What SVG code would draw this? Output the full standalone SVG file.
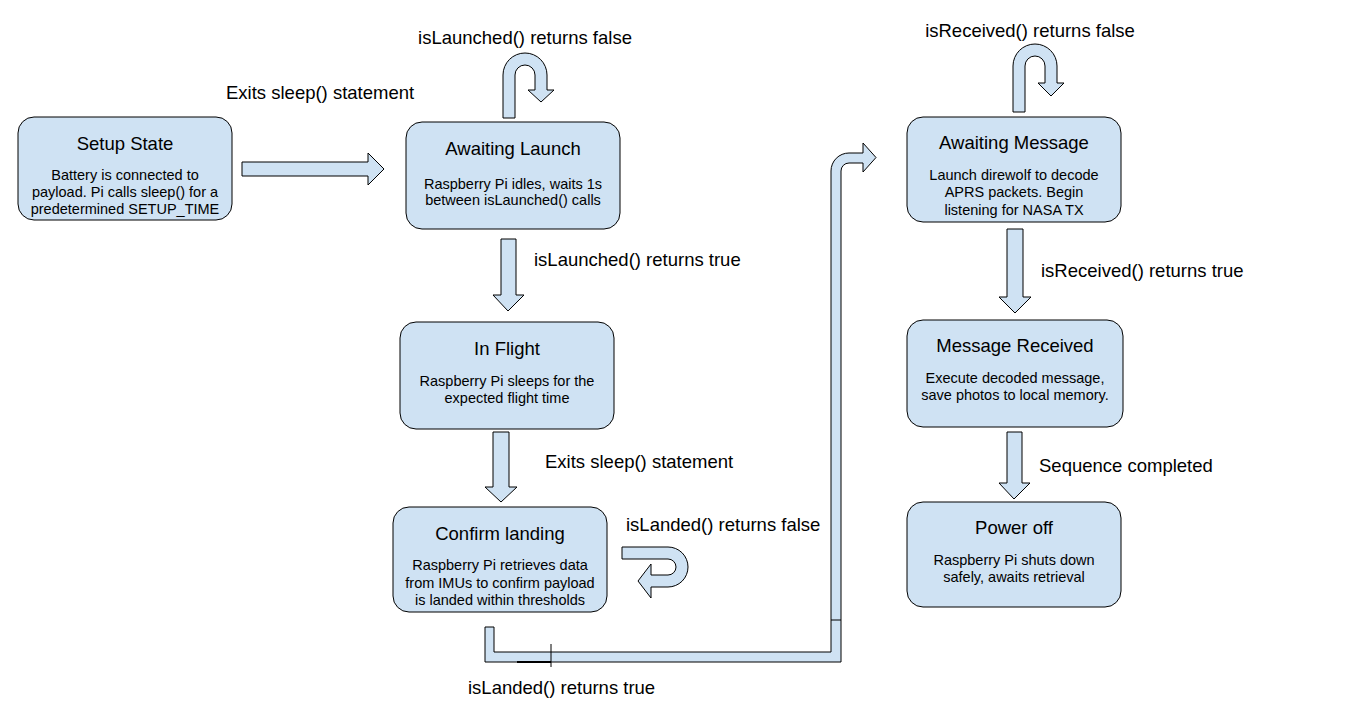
<svg xmlns="http://www.w3.org/2000/svg" width="1352" height="726" viewBox="0 0 1352 726">
<style>
.box{fill:#cfe2f3;stroke:#000;stroke-width:1}
.arr{fill:#cfe2f3;stroke:#000;stroke-width:1;stroke-linejoin:miter}
.t{font-family:"Liberation Sans",Arial,sans-serif;font-size:18.5px;fill:#000;text-anchor:middle}
.b{font-family:"Liberation Sans",Arial,sans-serif;font-size:14.5px;fill:#000;text-anchor:middle}
.l{font-family:"Liberation Sans",Arial,sans-serif;font-size:18.5px;fill:#000}
.ln{stroke:#000;stroke-width:1;fill:none}
</style>
<rect width="1352" height="726" fill="#fff"/>
<g id="connectors">
<path class="arr" d="M242,162 H368 V153 L384,169 L368,185 V176 H242 Z"/>
<path class="arr" d="M501,239 H516 V295 H524 L508,311 L493,295 H501 Z"/>
<path class="arr" d="M493,432 H509 V487 H517 L501,502 L485,487 H493 Z"/>
<path class="arr" d="M1007,229 H1023 V297 H1031 L1015,313 L999,297 H1007 Z"/>
<path class="arr" d="M1007,432 H1022 V483 H1030 L1014,499 L999,483 H1007 Z"/>
<path class="arr" d="M503,118 V75 A22,22 0 0 1 547,75 V90 H554 L541,102 L528,90 H535 V75 A10,10 0 0 0 515,75 V118 Z"/>
<path class="arr" d="M1013,112 V66 A22,22 0 0 1 1057,66 V83 H1064 L1051,96 L1038,83 H1045 V66 A10,10 0 0 0 1025,66 V112 Z"/>
<path class="arr" d="M622,547 H668 A20,20 0 0 1 668,587 H651 V598 L638,581 L651,564 V575 H668 A8,8 0 0 0 668,559 H622 Z"/>
<path class="arr" d="M485,627 H494 V652 H831 V171 A18,18 0 0 1 849,153 H863 V143 L876,157.5 L863,172 V163 H849 A8,8 0 0 0 841,171 V662 H485 Z"/>
<line class="ln" x1="831" y1="620" x2="841" y2="620"/>
<line class="ln" x1="551" y1="644" x2="551" y2="667"/>
<line x1="517" y1="662" x2="551" y2="662" stroke="#000" stroke-width="2"/>
<text class="l" x="525" y="44" text-anchor="middle">isLaunched() returns false</text>
<text class="l" x="226" y="99">Exits sleep() statement</text>
<text class="l" x="534" y="266">isLaunched() returns true</text>
<text class="l" x="545" y="468">Exits sleep() statement</text>
<text class="l" x="626" y="531">isLanded() returns false</text>
<text class="l" x="468" y="694">isLanded() returns true</text>
<text class="l" x="1030" y="37" text-anchor="middle">isReceived() returns false</text>
<text class="l" x="1041" y="277">isReceived() returns true</text>
<text class="l" x="1039" y="472">Sequence completed</text>
</g>
<g id="setup">
<rect class="box" x="18" y="117" width="214" height="103" rx="16"/>
<text class="t" x="125" y="150">Setup State</text>
<text class="b" x="125" y="180">Battery is connected to</text>
<text class="b" x="125" y="197">payload. Pi calls sleep() for a</text>
<text class="b" x="125" y="214">predetermined SETUP_TIME</text>
</g>
<g id="awaiting-launch">
<rect class="box" x="406" y="122" width="214" height="107" rx="16"/>
<text class="t" x="513" y="155">Awaiting Launch</text>
<text class="b" x="513" y="189">Raspberry Pi idles, waits 1s</text>
<text class="b" x="513" y="205">between isLaunched() calls</text>
</g>
<g id="in-flight">
<rect class="box" x="400" y="322" width="214" height="107" rx="16"/>
<text class="t" x="507" y="355">In Flight</text>
<text class="b" x="507" y="386">Raspberry Pi sleeps for the</text>
<text class="b" x="507" y="403">expected flight time</text>
</g>
<g id="confirm-landing">
<rect class="box" x="393" y="507" width="214" height="105" rx="16"/>
<text class="t" x="500" y="540">Confirm landing</text>
<text class="b" x="500" y="570">Raspberry Pi retrieves data</text>
<text class="b" x="500" y="588">from IMUs to confirm payload</text>
<text class="b" x="500" y="605">is landed within thresholds</text>
</g>
<g id="awaiting-message">
<rect class="box" x="907" y="117" width="214" height="105" rx="16"/>
<text class="t" x="1014" y="149">Awaiting Message</text>
<text class="b" x="1014" y="180">Launch direwolf to decode</text>
<text class="b" x="1014" y="197">APRS packets. Begin</text>
<text class="b" x="1014" y="215">listening for NASA TX</text>
</g>
<g id="message-received">
<rect class="box" x="907" y="320" width="216" height="107" rx="16"/>
<text class="t" x="1015" y="352">Message Received</text>
<text class="b" x="1015" y="383">Execute decoded message,</text>
<text class="b" x="1015" y="400">save photos to local memory.</text>
</g>
<g id="power-off">
<rect class="box" x="907" y="502" width="214" height="105" rx="16"/>
<text class="t" x="1014" y="534">Power off</text>
<text class="b" x="1014" y="565">Raspberry Pi shuts down</text>
<text class="b" x="1014" y="582">safely, awaits retrieval</text>
</g>
</svg>
